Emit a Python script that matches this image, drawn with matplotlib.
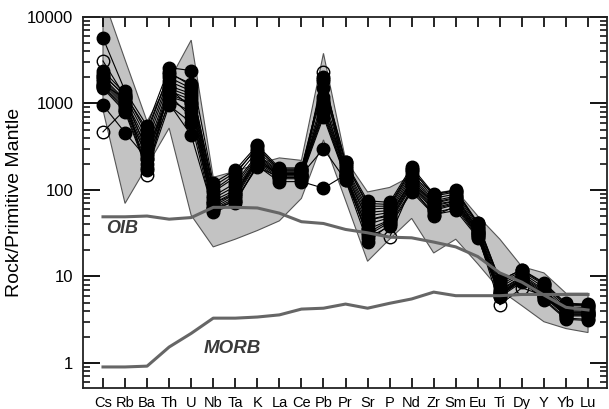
import matplotlib
matplotlib.use('Agg')
import matplotlib.pyplot as plt
from matplotlib.ticker import FixedLocator, FixedFormatter, LogLocator, NullFormatter
import numpy as np

plt.rcParams['font.family'] = ['Liberation Sans', 'DejaVu Sans']

# --- data ---
elements = ['Cs', 'Rb', 'Ba', 'Th', 'U', 'Nb', 'Ta', 'K', 'La', 'Ce', 'Pb', 'Pr',
            'Sr', 'P', 'Nd', 'Zr', 'Sm', 'Eu', 'Ti', 'Dy', 'Y', 'Yb', 'Lu']

# samples, filled circles
samples_filled = [
    [5700, 1400, 550, 2600, 2400, 120, 170, 330, 180, 180, 1800, 210, 75, 72, 185, 90, 100, 42, 9.0, 12.0, 8.5, 4.9, 4.8],
    [2400, 1300, 450, 2300, 1600, 110, 160, 300, 175, 175, 1500, 200, 70, 68, 175, 85, 95, 40, 8.5, 11.5, 8.0, 4.6, 4.6],
    [2200, 1200, 400, 2000, 1500, 95, 140, 280, 170, 170, 1200, 190, 60, 62, 160, 80, 90, 38, 8.0, 11.0, 7.5, 4.4, 4.4],
    [2000, 1100, 350, 1800, 1400, 85, 120, 260, 165, 165, 1000, 180, 55, 58, 150, 75, 85, 36, 7.5, 10.5, 7.0, 4.2, 4.2],
    [1900, 1050, 300, 1600, 1300, 80, 110, 250, 160, 160, 900, 170, 50, 55, 140, 72, 82, 35, 7.0, 10.0, 6.8, 4.0, 4.0],
    [1800, 1000, 260, 1500, 1200, 75, 100, 240, 155, 155, 850, 160, 45, 52, 130, 70, 80, 34, 6.8, 9.8, 6.5, 3.9, 3.9],
    [1700, 950, 230, 1400, 1100, 70, 95, 230, 150, 150, 800, 150, 40, 48, 125, 65, 75, 33, 6.5, 9.5, 6.2, 3.8, 3.8],
    [1600, 900, 200, 1300, 1000, 65, 90, 220, 145, 145, 750, 145, 35, 45, 120, 62, 72, 32, 6.2, 9.2, 6.0, 3.6, 3.6],
    [1550, 850, 180, 1100, 800, 60, 80, 210, 140, 140, 700, 140, 30, 42, 110, 58, 68, 30, 6.0, 9.0, 5.8, 3.5, 3.5],
    [1500, 800, 170, 950, 600, 55, 70, 200, 135, 135, 2000, 130, 25, 40, 100, 55, 62, 29, 5.8, 8.6, 5.5, 3.3, 3.2],
    [960, 460, 230, 1000, 430, 58, 75, 190, 125, 125, 105, 150, 28, 38, 95, 52, 58, 28, 6.0, 9.0, 5.3, 3.2, 3.1],
    [1650, 1150, 280, 1250, 700, 62, 85, 215, 150, 150, 300, 130, 32, 44, 115, 60, 70, 31, 6.3, 9.3, 6.0, 3.7, 3.7],
    [2100, 1250, 500, 2200, 1700, 100, 150, 320, 170, 170, 1900, 210, 65, 65, 170, 88, 98, 41, 9.0, 12.0, 8.2, 4.8, 4.7],
]

# samples, open circles
samples_open = [
    [3100, 1200, 150, 1500, 900, 60, 75, 185, 140, 140, 2300, 150, 35, 28.5, 110, 50, 65, 30, 4.7, 7.4, 6.0, 3.6, 3.6],
    [470, 850, 250, 1200, 1000, 70, 90, 230, 150, 150, 1100, 160, 45, 50, 130, 68, 75, 33, 6.5, 9.5, 6.2, 3.8, 3.8],
]

# grey field
field_upper = [17000, 3200, 620, 1830, 5400, 140, 165, 200, 235, 220, 3800, 225,
               95, 107, 145, 92, 100, 50, 27, 13, 11, 6.4, 6.4]
field_lower = [840, 70, 190, 520, 51, 22, 27, 34, 44, 80, 380, 76,
               15, 27, 47, 18.7, 27, 14, 7, 4.6, 3.0, 2.5, 2.25]

# reference lines
oib = [49, 49, 50, 46, 48, 63, 63, 62, 54, 43, 41, 35, 32, 28.5, 28, 25, 22, 17, 11, 8.6, 6.1, 4.4, 4.1]
morb = [0.9, 0.9, 0.92, 1.53, 2.2, 3.3, 3.3, 3.4, 3.6, 4.2, 4.3, 4.8, 4.3, 4.9, 5.5, 6.6, 6.0, 6.0, 6.0, 6.2, 6.2, 6.2, 6.2]

x = np.arange(len(elements))

fig = plt.figure(figsize=(6.09, 4.09), dpi=100)
ax = fig.add_axes([83 / 609, 1 - 388 / 409, (607 - 83) / 609, (388 - 17) / 409])

# envelope
poly_x = np.concatenate([x, x[::-1]])
poly_y = np.concatenate([field_upper, field_lower[::-1]])
ax.fill(poly_x, poly_y, facecolor='#c3c3c3', edgecolor='#555555', linewidth=0.8, zorder=1)

for s in samples_filled:
    ax.plot(x, s, color='black', linewidth=0.8, marker='o', markersize=9,
            markerfacecolor='black', markeredgecolor='black', zorder=3)
for s in samples_open:
    ax.plot(x, s, color='black', linewidth=0.8, marker='o', markersize=9,
            markerfacecolor='none', markeredgecolor='black', markeredgewidth=1.0, zorder=3)

ax.plot(x, oib, color='#666666', linewidth=2.2, zorder=4)
ax.plot(x, morb, color='#666666', linewidth=2.2, zorder=4)

ax.text(0.15, 35.5, 'OIB', fontsize=13, fontweight='bold', style='italic',
        color='#3a3a3a', ha='left', va='center', zorder=5)
ax.text(4.55, 1.49, 'MORB', fontsize=13.5, fontweight='bold', style='italic',
        color='#3a3a3a', ha='left', va='center', zorder=5)

ax.set_yscale('log')
ax.set_xlim(-0.907, 22.86)
ax.set_ylim(0.514, 10000)

ax.xaxis.set_major_locator(FixedLocator(x))
ax.xaxis.set_major_formatter(FixedFormatter(elements))
ax.yaxis.set_major_locator(FixedLocator([1, 10, 100, 1000, 10000]))
ax.yaxis.set_major_formatter(FixedFormatter(['1', '10', '100', '1000', '10000']))
ax.yaxis.set_minor_locator(LogLocator(base=10, subs=np.arange(2, 10)))
ax.yaxis.set_minor_formatter(NullFormatter())

ax.tick_params(axis='y', which='major', direction='in', length=12, width=1.3,
               left=True, right=True, labelsize=12, pad=7)
ax.tick_params(axis='y', which='minor', direction='in', length=5, width=1.1,
               left=True, right=True)
ax.tick_params(axis='x', which='major', direction='in', length=7, width=1.2,
               bottom=True, top=True, labelsize=10.5, pad=6)

for sp in ax.spines.values():
    sp.set_linewidth(1.3)
    sp.set_color('#222222')

ax.set_ylabel('Rock/Primitive Mantle', fontsize=14, labelpad=3)

fig.savefig('out.png', dpi=100)
